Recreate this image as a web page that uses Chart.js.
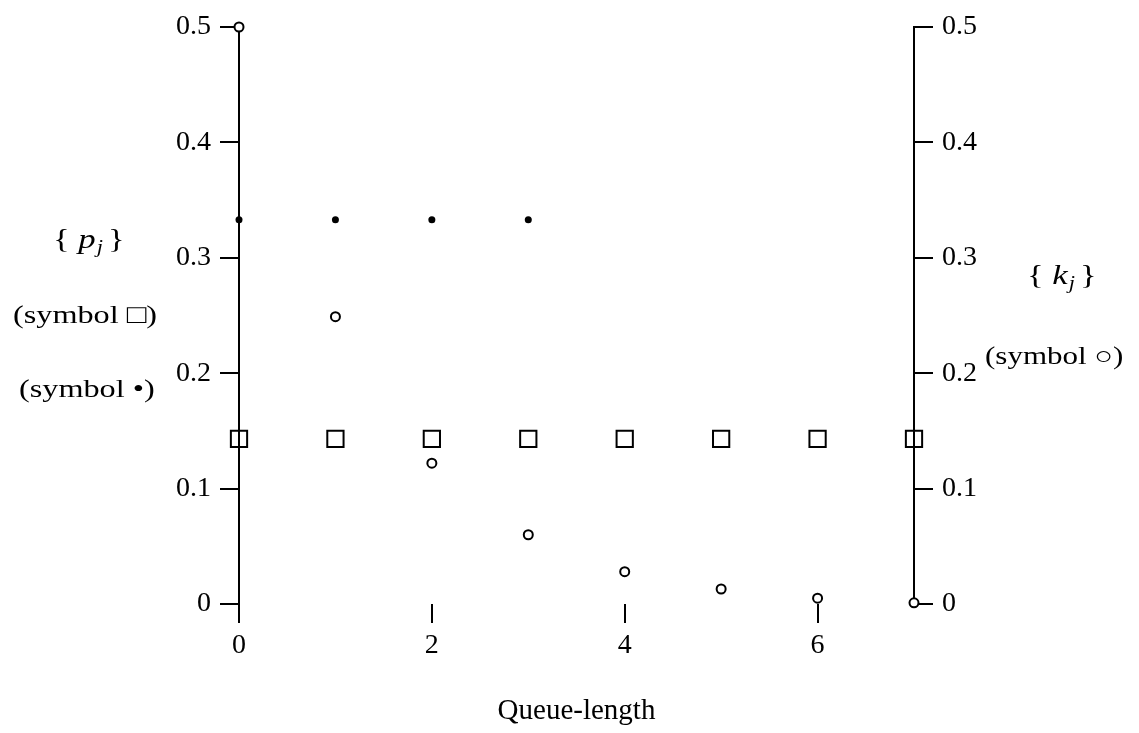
<!DOCTYPE html>
<html lang="en">
<head>
    <meta charset="UTF-8">
    <title>Queue-length distributions</title>
    <script src="https://cdn.jsdelivr.net/npm/chart.js"></script>
    <style>
        body {
            margin: 0;
            background: #ffffff;
        }
        #wrap {
            width: 1139px;
            height: 733px;
        }
    </style>
</head>
<body>
    <div id="wrap">
        <canvas id="queueChart" width="1139" height="733"></canvas>
    </div>

    <script>
        // queue lengths and the three sets of values
        const queueLength = [0, 1, 2, 3, 4, 5, 6, 7];
        const pSquare = [0.143, 0.143, 0.143, 0.143, 0.143, 0.143, 0.143, 0.143];
        const pDotLength = [0, 1, 2, 3];
        const pDot = [0.333, 0.333, 0.333, 0.333];
        const kCircle = [0.5, 0.249, 0.122, 0.06, 0.028, 0.013, 0.005, 0.001];

        const xTickValues = [0, 2, 4, 6];
        const yTickLabels = ['0', '0.1', '0.2', '0.3', '0.4', '0.5'];

        const serif = "'Liberation Serif', 'Times New Roman', serif";

        function points(xs, ys) {
            return xs.map((x, i) => ({ x: x, y: ys[i] }));
        }

        // side captions drawn in the left and right margins
        // (the scanned lettering is a bit wider than Times, so stretch it)
        const captions = {
            id: 'captions',
            afterDraw(chart) {
                const ctx = chart.ctx;
                const stretch = 1.24;

                function text(str, x, y, font) {
                    ctx.save();
                    ctx.translate(x, y);
                    ctx.scale(stretch, 1);
                    ctx.font = font;
                    ctx.fillStyle = '#000';
                    ctx.textBaseline = 'middle';
                    ctx.fillText(str, 0, 0);
                    const w = ctx.measureText(str).width * stretch;
                    ctx.restore();
                    return w;
                }

                function braced(x, y, letter) {
                    let cx = x;
                    cx += text('{ ', cx, y, '28px ' + serif);
                    cx += text(letter, cx, y, 'italic 28px ' + serif);
                    cx += text('j', cx + 1, y + 7, 'italic 18px ' + serif) + 6;
                    text('}', cx, y, '28px ' + serif);
                }

                braced(53, 241, 'p');
                braced(1027, 277, 'k');

                text('(symbol \u25A1)', 13, 316, '26px ' + serif);
                text('(symbol \u2022)', 19, 390, '26px ' + serif);
                text('(symbol \u25CB)', 985, 357, '25px ' + serif);
            }
        };

        const ctx = document.getElementById('queueChart').getContext('2d');
        new Chart(ctx, {
            type: 'scatter',
            data: {
                datasets: [
                    {
                        label: 'p_j (square)',
                        data: points(queueLength, pSquare),
                        yAxisID: 'y',
                        pointStyle: 'rect',
                        pointRadius: 11.5,
                        borderColor: '#000',
                        borderWidth: 2,
                        backgroundColor: 'rgba(255,255,255,0)',
                        clip: false
                    },
                    {
                        label: 'p_j (dot)',
                        data: points(pDotLength, pDot),
                        yAxisID: 'y',
                        pointStyle: 'circle',
                        pointRadius: 3.5,
                        borderWidth: 0,
                        backgroundColor: '#000',
                        clip: false
                    },
                    {
                        label: 'k_j',
                        data: points(queueLength, kCircle),
                        yAxisID: 'y2',
                        pointStyle: 'circle',
                        pointRadius: 4.5,
                        borderColor: '#000',
                        borderWidth: 2,
                        backgroundColor: '#fff',
                        clip: false
                    }
                ]
            },
            options: {
                responsive: false,
                animation: false,
                layout: {
                    padding: { top: 27, left: 0, right: 0, bottom: 0 }
                },
                plugins: {
                    legend: { display: false },
                    tooltip: { enabled: false }
                },
                scales: {
                    x: {
                        type: 'linear',
                        position: 'bottom',
                        min: 0,
                        max: 7,
                        afterBuildTicks: scale => {
                            scale.ticks = xTickValues.map(v => ({ value: v }));
                        },
                        afterFit: scale => { scale.height = 129; },
                        border: { display: false },
                        grid: {
                            drawOnChartArea: false,
                            drawTicks: true,
                            tickLength: 19,
                            color: '#000',
                            lineWidth: 2
                        },
                        ticks: {
                            color: '#000',
                            padding: 6,
                            maxRotation: 0,
                            font: { family: serif, size: 28 }
                        },
                        title: {
                            display: true,
                            text: 'Queue-length',
                            color: '#000',
                            padding: { top: 32 },
                            font: { family: serif, size: 29 }
                        }
                    },
                    y: {
                        position: 'left',
                        min: 0,
                        max: 0.5,
                        afterFit: scale => { scale.width = 239; },
                        border: { display: true, color: '#000', width: 2 },
                        grid: {
                            drawOnChartArea: false,
                            tickLength: 19,
                            color: '#000',
                            lineWidth: 2
                        },
                        ticks: {
                            stepSize: 0.1,
                            color: '#000',
                            padding: 9,
                            font: { family: serif, size: 28 },
                            callback: (v, i) => yTickLabels[i]
                        }
                    },
                    y2: {
                        position: 'right',
                        min: 0,
                        max: 0.5,
                        afterFit: scale => { scale.width = 225; },
                        border: { display: true, color: '#000', width: 2 },
                        grid: {
                            drawOnChartArea: false,
                            tickLength: 19,
                            color: '#000',
                            lineWidth: 2
                        },
                        ticks: {
                            stepSize: 0.1,
                            color: '#000',
                            padding: 9,
                            font: { family: serif, size: 28 },
                            callback: (v, i) => yTickLabels[i]
                        }
                    }
                }
            },
            plugins: [captions]
        });
    </script>
</body>
</html>
